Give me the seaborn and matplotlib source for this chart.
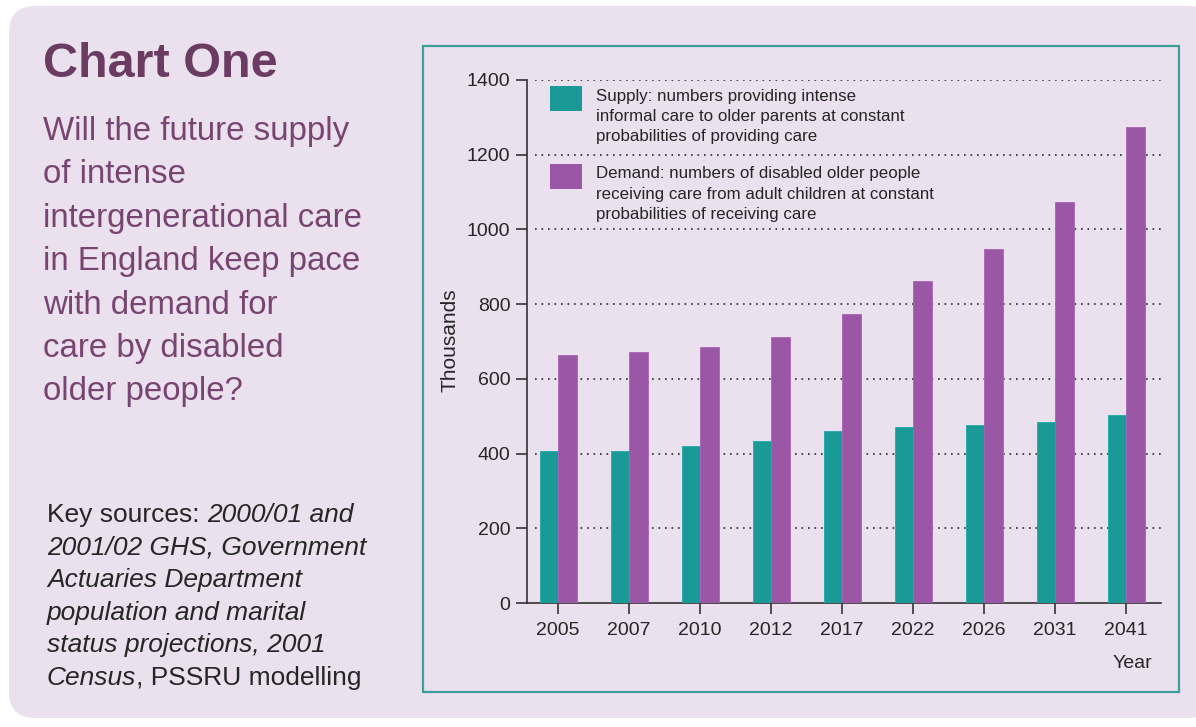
import matplotlib
matplotlib.use("Agg")
import matplotlib.pyplot as plt
from matplotlib.patches import FancyBboxPatch, Rectangle
import numpy as np
import pandas as pd
import seaborn as sns

# ---- data (thousands of people) ----
years = ["2005", "2007", "2010", "2012", "2017", "2022", "2026", "2031", "2041"]
supply = [406, 406, 419, 433, 460, 472, 476, 485, 503]
demand = [664, 673, 686, 712, 773, 862, 948, 1074, 1275]
series_names = ["Supply", "Demand"]
legend_texts = [
    ["Supply: numbers providing intense",
     "informal care to older parents at constant",
     "probabilities of providing care"],
    ["Demand: numbers of disabled older people",
     "receiving care from adult children at constant",
     "probabilities of receiving care"],
]
y_ticks = [0, 200, 400, 600, 800, 1000, 1200, 1400]

title = "Chart One"
question_lines = [
    "Will the future supply",
    "of intense",
    "intergenerational care",
    "in England keep pace",
    "with demand for",
    "care by disabled",
    "older people?",
]
# each line is a list of (text, italic?) segments
source_lines = [
    [("Key sources: ", False), ("2000/01 and", True)],
    [("2001/02 GHS, Government", True)],
    [("Actuaries Department", True)],
    [("population and marital", True)],
    [("status projections, 2001", True)],
    [("Census", True), (", PSSRU modelling", False)],
]

# ---- style ----
TEAL = "#1A9A97"
PURPLE = "#9A57A6"
PANEL = "#EAE0EE"
FRAME = "#3E9E9A"
PLUM_DARK = "#6C3B62"
PLUM = "#784571"
INK = "#262626"

sns.set_style("white")
plt.rcParams["font.family"] = ["Liberation Sans", "DejaVu Sans"]

W, H = 1196, 727
fig = plt.figure(figsize=(W / 100, H / 100), dpi=100)
fig.patch.set_facecolor("white")


def fx(px):
    return px / W


def fy(py):
    return 1 - py / H


# rounded background panel
panel = FancyBboxPatch((fx(9), fy(718)), fx(1215) - fx(9), fy(6) - fy(718),
                       boxstyle="round,pad=0,rounding_size=0.022",
                       transform=fig.transFigure, facecolor=PANEL,
                       edgecolor="none", zorder=-3,
                       mutation_aspect=W / H)
fig.patches.append(panel)

# framed chart box
frame = Rectangle((fx(423), fy(692)), fx(1179) - fx(423), fy(46) - fy(692),
                  transform=fig.transFigure, facecolor="none",
                  edgecolor=FRAME, linewidth=1.6, zorder=-2)
fig.patches.append(frame)

# ---- bar chart ----
ax_left, ax_right, ax_top, ax_bottom = 527, 1161, 80, 603
ax = fig.add_axes([fx(ax_left), fy(ax_bottom),
                   fx(ax_right) - fx(ax_left), fy(ax_top) - fy(ax_bottom)])
ax.set_facecolor("none")

df = pd.DataFrame({
    "Year": years * 2,
    "Thousands": supply + demand,
    "Series": [series_names[0]] * len(years) + [series_names[1]] * len(years),
})
sns.barplot(data=df, x="Year", y="Thousands", hue="Series", order=years,
            hue_order=series_names, palette=[TEAL, PURPLE], saturation=1,
            width=0.52, legend=False, ax=ax, zorder=3)
for patch in ax.patches:
    fc = patch.get_facecolor()
    patch.set_edgecolor(tuple(min(1, c * 1.12) for c in fc[:3]))
    patch.set_linewidth(0.6)

ax.set_xlim(-0.437, 8.49)
ax.set_ylim(0, 1400)
ax.set_yticks(y_ticks)
ax.set_yticklabels([str(t) for t in y_ticks])

# dotted gridlines
for t in y_ticks[1:]:
    ax.axhline(t, xmin=0.013, xmax=1.0, color="#2a2a2a", linewidth=1.2,
               linestyle=(0, (1.0, 2.9)), zorder=1)

for side in ["top", "right"]:
    ax.spines[side].set_visible(False)
for side in ["left", "bottom"]:
    ax.spines[side].set_color("#333333")
    ax.spines[side].set_linewidth(1.2)

ax.tick_params(axis="both", direction="out", length=8, width=1.2,
               color="#333333", labelsize=14, labelcolor=INK,
               bottom=True, left=True)
ax.tick_params(axis="y", pad=4)
ax.tick_params(axis="x", pad=6)

ax.set_ylabel("Thousands", fontsize=15, color=INK)
ax.yaxis.set_label_coords((459 - ax_left) / (ax_right - ax_left), 0.503)
ax.set_xlabel("Year", fontsize=14, color=INK, ha="right", va="baseline")
ax.xaxis.set_label_coords((1152 - ax_left) / (ax_right - ax_left),
                          -(668 - ax_bottom) / (ax_bottom - ax_top))

# legend: colour squares with three-line descriptions
sq_tops = [86, 164]
text_baselines = [100.7, 178.3]
for color, top, base, lines in zip([TEAL, PURPLE], sq_tops, text_baselines,
                                   legend_texts):
    fig.patches.append(Rectangle((fx(550), fy(top + 25)), fx(582) - fx(550),
                                 fy(top) - fy(top + 25),
                                 transform=fig.transFigure, facecolor=color,
                                 edgecolor="none", zorder=4))
    for i, line in enumerate(lines):
        fig.text(fx(596), fy(base + i * 20.3), line, fontsize=12.2,
                 color=INK, va="baseline", ha="left", zorder=4)

# ---- left-hand text ----
fig.text(fx(43), fy(77), title, fontsize=35, fontweight="bold",
         color=PLUM_DARK, va="baseline", ha="left")

for i, line in enumerate(question_lines):
    fig.text(fx(43), fy(140 + i * 43.4), line, fontsize=23.8, color=PLUM,
             va="baseline", ha="left")

renderer = fig.canvas.get_renderer()
for i, segments in enumerate(source_lines):
    x = 47
    y = 522 + i * 32.6
    for text, italic in segments:
        t = fig.text(fx(x), fy(y), text, fontsize=19, color=INK,
                     style="italic" if italic else "normal",
                     va="baseline", ha="left")
        bb = t.get_window_extent(renderer=renderer)
        x += bb.width

fig.savefig("out.png", dpi=100, facecolor=fig.get_facecolor())
